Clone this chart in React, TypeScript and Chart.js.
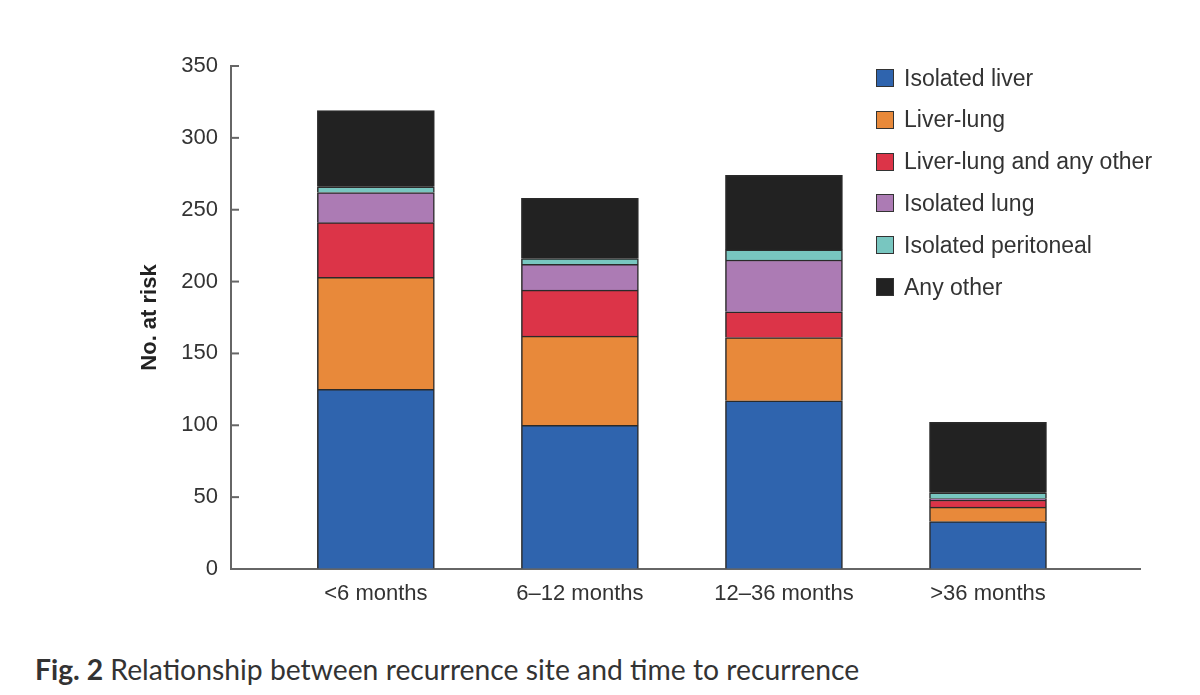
import React, { useEffect, useRef } from "react";
import { Chart, registerables } from "chart.js";

Chart.register(...registerables);

const categories = ["<6 months", "6–12 months", "12–36 months", ">36 months"];
const seriesNames = [
  "Isolated liver",
  "Liver-lung",
  "Liver-lung and any other",
  "Isolated lung",
  "Isolated peritoneal",
  "Any other",
];
const seriesColors = ["#2f64ae", "#e8893a", "#dc3448", "#ac7bb4", "#78c6c0", "#222222"];
const isolatedLiver = [125, 100, 117, 33];
const liverLung = [78, 62, 44, 10];
const liverLungOther = [38, 32, 18, 5];
const isolatedLung = [21, 18, 36, 1];
const isolatedPeritoneal = [4, 4, 7, 4];
const anyOther = [53, 42, 52, 49];
const seriesValues = [isolatedLiver, liverLung, liverLungOther, isolatedLung, isolatedPeritoneal, anyOther];
const yTicks = [0, 50, 100, 150, 200, 250, 300, 350];

const FONT = "'Liberation Sans', Arial, sans-serif";

const inwardTicks = {
  id: "inwardTicks",
  afterDraw(chart: any) {
    const y = chart.scales.y;
    const ctx = chart.ctx;
    ctx.save();
    ctx.strokeStyle = "#666";
    ctx.lineWidth = 2;
    yTicks.forEach((t) => {
      const py = y.getPixelForValue(t);
      ctx.beginPath();
      ctx.moveTo(chart.chartArea.left, py);
      ctx.lineTo(chart.chartArea.left + 8, py);
      ctx.stroke();
    });
    ctx.restore();
  },
};

export default function App() {
  const ref = useRef<HTMLCanvasElement>(null);
  useEffect(() => {
    document.body.style.margin = "0";
    const chart = new Chart(ref.current!, {
      type: "bar",
      data: {
        datasets: seriesNames.map((name, s) => ({
          label: name,
          data: seriesValues[s].map((v, i) => ({ x: i, y: v })),
          backgroundColor: seriesColors[s],
          borderColor: "#2a2a2a",
          borderWidth: 1.5,
          barThickness: 117,
        })),
      },
      options: {
        animation: false,
        responsive: false,
        layout: { padding: { left: 0, top: 66, right: 60, bottom: 0 } },
        plugins: { legend: { display: false }, tooltip: { enabled: false } },
        scales: {
          x: {
            type: "linear",
            stacked: true,
            offset: false,
            min: -0.71,
            max: 3.745,
            afterBuildTicks: (scale: any) => {
              scale.ticks = categories.map((_, i) => ({ value: i }));
            },
            afterFit: (scale: any) => {
              scale.height = 56;
            },
            ticks: {
              callback: (v: any) => categories[v as number] ?? "",
              font: { family: FONT, size: 22 },
              color: "#333",
              padding: 12,
              maxRotation: 0,
              autoSkip: false,
            },
            grid: { display: false, drawTicks: false, offset: false },
            border: { display: true, color: "#666", width: 2 },
          },
          y: {
            stacked: true,
            min: 0,
            max: 350,
            afterBuildTicks: (scale: any) => {
              scale.ticks = yTicks.map((v) => ({ value: v }));
            },
            afterFit: (scale: any) => {
              scale.width = 231;
            },
            ticks: {
              font: { family: FONT, size: 22 },
              color: "#333",
              padding: 13,
            },
            grid: { drawOnChartArea: false, drawTicks: false },
            border: { display: true, color: "#666", width: 2 },
            title: {
              display: true,
              text: "No. at risk",
              font: { family: FONT, size: 22, weight: "bold" },
              color: "#222",
              padding: { top: 137, bottom: 0 },
            },
          },
        },
      },
      plugins: [inwardTicks],
    });
    return () => chart.destroy();
  }, []);

  const legendTops = seriesNames.map((_, i) => 66 + i * 41.8);

  return (
    <div style={{ position: "relative", width: 1200, height: 695, background: "#fff", overflow: "hidden" }}>
      <canvas ref={ref} width={1200} height={625} style={{ position: "absolute", left: 0, top: 0 }} />
      {seriesNames.map((name, i) => (
        <div
          key={name}
          style={{
            position: "absolute",
            left: 876,
            top: legendTops[i],
            height: 24,
            display: "flex",
            alignItems: "center",
            fontFamily: FONT,
            fontSize: 23,
            color: "#333",
            whiteSpace: "nowrap",
          }}
        >
          <span
            style={{
              display: "inline-block",
              width: 16,
              height: 16,
              background: seriesColors[i],
              border: "1.5px solid #333",
              marginRight: 10,
            }}
          />
          {name}
        </div>
      ))}
      <div
        style={{
          position: "absolute",
          left: 35,
          top: 652,
          fontFamily: "Lato, 'Noto Sans', sans-serif",
          fontSize: 28.3,
          color: "#333",
          whiteSpace: "nowrap",
        }}
      >
        <b>Fig. 2</b> Relationship between recurrence site and time to recurrence
      </div>
    </div>
  );
}
